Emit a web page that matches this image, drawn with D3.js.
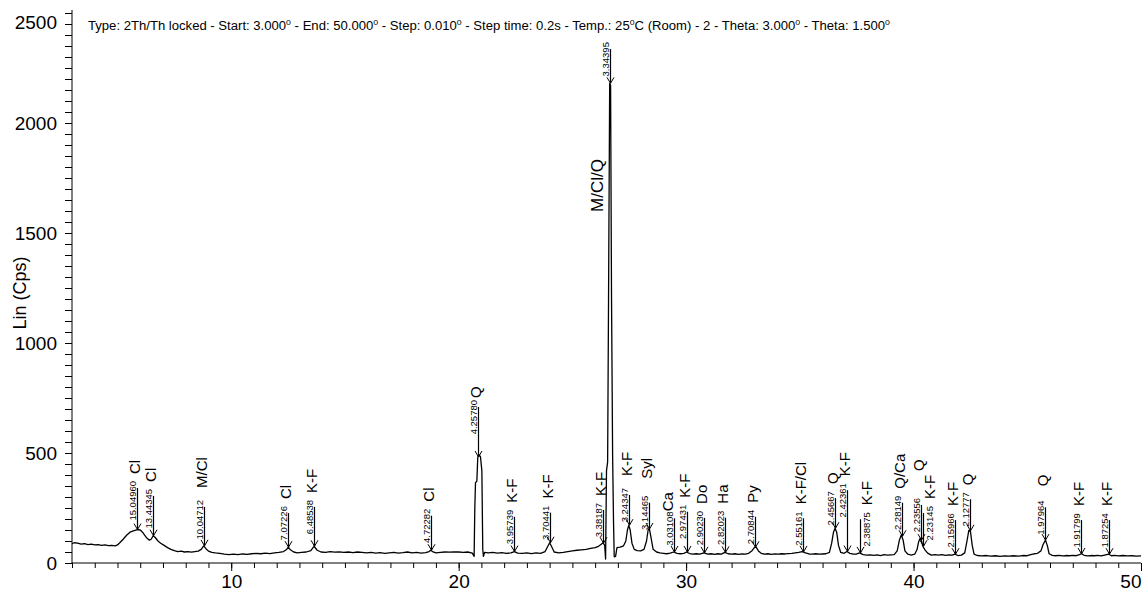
<!DOCTYPE html>
<html>
<head>
<meta charset="utf-8">
<script src="https://cdn.jsdelivr.net/npm/d3@7/dist/d3.min.js"></script>
<style>
  html, body { margin: 0; padding: 0; background: #fff; }
  svg { display: block; font-family: "Liberation Sans", Arial, Helvetica, sans-serif; }
</style>
</head>
<body>
<svg id="chart" width="1142" height="594"></svg>
<script>
// ---- measured scan: [2θ (deg), intensity (cps)] ----
const scan = [
  [3.00,88],[3.10,92],[3.25,90],[3.40,86],[3.55,88],[3.70,84],[3.85,86],[4.00,82],[4.15,84],[4.30,80],
  [4.45,82],[4.60,79],[4.75,80],[4.90,78],[5.00,82],[5.10,92],[5.25,108],[5.40,126],[5.55,140],[5.70,146],
  [5.87,152],[6.00,150],[6.10,140],[6.20,126],[6.30,112],[6.40,104],[6.48,108],[6.57,124],[6.66,116],[6.78,100],
  [6.90,90],[7.05,80],[7.20,70],[7.35,62],[7.50,56],[7.65,52],[7.80,54],[7.95,50],[8.10,52],[8.25,49],
  [8.40,52],[8.55,54],[8.68,62],[8.79,78],[8.90,64],[9.00,54],[9.15,48],[9.30,46],[9.50,44],[9.70,40],
  [9.90,38],[10.10,40],[10.30,38],[10.50,41],[10.70,39],[10.90,42],[11.10,44],[11.30,42],[11.50,45],[11.70,43],
  [11.90,46],[12.10,48],[12.30,52],[12.42,60],[12.51,72],[12.60,60],[12.75,50],[12.90,46],[13.10,48],[13.30,50],
  [13.50,56],[13.64,76],[13.78,58],[13.95,50],[14.15,48],[14.35,52],[14.55,49],[14.75,51],[14.95,48],[15.15,50],
  [15.35,47],[15.55,50],[15.75,48],[15.95,46],[16.15,48],[16.35,45],[16.55,47],[16.75,44],[16.95,46],[17.15,48],
  [17.35,45],[17.55,47],[17.75,50],[17.95,46],[18.15,48],[18.35,45],[18.55,47],[18.70,52],[18.77,58],[18.85,52],
  [19.00,46],[19.20,48],[19.40,50],[19.60,49],[19.80,51],[20.00,50],[20.20,48],[20.40,50],[20.60,45],[20.68,30],
  [20.71,250],[20.74,365],[20.80,372],[20.84,480],[20.90,492],[20.96,482],[21.02,420],[21.06,60],[21.09,30],[21.14,48],
  [21.30,46],[21.50,48],[21.70,45],[21.90,47],[22.10,44],[22.30,46],[22.45,52],[22.60,45],[22.80,44],[23.00,46],
  [23.20,43],[23.40,46],[23.60,44],[23.80,52],[23.92,76],[24.00,92],[24.08,76],[24.20,50],[24.40,46],[24.60,48],
  [24.80,52],[25.00,55],[25.20,58],[25.40,60],[25.60,62],[25.80,66],[26.00,70],[26.15,76],[26.28,86],[26.35,92],
  [26.42,80],[26.46,18],[26.50,420],[26.55,460],[26.59,1200],[26.64,2180],[26.68,2170],[26.72,1220],[26.77,480],[26.81,180],
  [26.84,28],[26.90,30],[26.96,70],[27.10,72],[27.25,78],[27.35,100],[27.42,150],[27.48,172],[27.54,150],[27.62,90],
  [27.72,62],[27.85,56],[28.00,55],[28.15,62],[28.26,100],[28.33,150],[28.38,158],[28.45,120],[28.55,62],[28.70,50],
  [28.85,46],[29.00,44],[29.15,42],[29.30,45],[29.45,50],[29.60,44],[29.75,42],[29.90,44],[30.02,50],[30.15,43],
  [30.30,40],[30.45,42],[30.60,40],[30.78,46],[30.95,40],[31.10,42],[31.25,39],[31.40,42],[31.55,40],[31.70,48],
  [31.85,42],[32.00,40],[32.15,42],[32.30,39],[32.45,41],[32.60,40],[32.75,44],[32.90,56],[33.00,70],[33.08,72],
  [33.18,55],[33.30,44],[33.45,40],[33.60,42],[33.75,39],[33.90,41],[34.05,40],[34.20,42],[34.35,41],[34.50,43],
  [34.65,44],[34.80,46],[34.95,48],[35.10,52],[35.25,46],[35.40,41],[35.55,40],[35.70,42],[35.85,40],[36.00,41],
  [36.15,42],[36.30,48],[36.40,90],[36.48,140],[36.55,158],[36.62,140],[36.70,80],[36.80,48],[36.95,44],[37.07,52],
  [37.20,44],[37.35,40],[37.50,41],[37.63,46],[37.78,38],[37.95,36],[38.10,37],[38.25,35],[38.40,37],[38.55,34],
  [38.70,38],[38.85,36],[39.00,37],[39.15,38],[39.28,55],[39.38,105],[39.46,127],[39.54,105],[39.62,55],[39.75,40],
  [39.90,36],[40.05,40],[40.15,60],[40.22,95],[40.29,112],[40.35,100],[40.41,76],[40.50,60],[40.62,45],[40.78,36],
  [40.95,38],[41.10,36],[41.25,38],[41.40,35],[41.55,37],[41.70,36],[41.81,40],[41.95,34],[42.10,36],[42.25,46],
  [42.35,100],[42.43,148],[42.50,145],[42.58,80],[42.66,40],[42.80,34],[43.00,32],[43.20,34],[43.40,31],[43.60,33],
  [43.80,30],[44.00,32],[44.20,31],[44.40,33],[44.60,31],[44.80,34],[45.00,33],[45.15,38],[45.30,42],[45.45,44],
  [45.60,55],[45.70,85],[45.80,104],[45.88,80],[45.96,42],[46.10,35],[46.25,33],[46.40,35],[46.55,32],[46.70,34],
  [46.85,33],[47.00,35],[47.15,33],[47.30,38],[47.38,42],[47.50,35],[47.65,32],[47.80,34],[47.95,33],[48.10,35],
  [48.25,32],[48.40,36],[48.58,40],[48.70,33],[48.85,35],[49.00,32],[49.20,34],[49.40,32],[49.60,33],[49.80,31],
  [50.00,32]
];

// ---- identified reflections ----
const peakAngle = [5.87, 6.57, 8.79, 12.51, 13.64, 18.77, 20.85, 22.45, 24.00, 26.33,
                   26.64, 27.48, 28.36, 29.45, 30.02, 30.78, 31.70, 33.05, 35.14, 36.55,
                   37.07, 37.63, 39.48, 40.33, 40.41, 41.81, 42.47, 45.80, 47.36, 48.58];
const peakD = ["15.04960","13.44345","10.04712","7.07226","6.48538","4.72282","4.25780","3.95739","3.70441","3.38187",
               "3.34395","3.24347","3.14465","3.03108","2.97431","2.90230","2.82023","2.70844","2.55161","2.45667",
               "2.42361","2.38875","2.28149","2.23556","2.23145","2.15966","2.12777","1.97964","1.91799","1.87254"];
const peakPhase = ["Cl","Cl","M/Cl","Cl","K-F","Cl","Q","K-F","K-F","K-F",
                   "M/Cl/Q","K-F","Syl","Ca","K-F","Do","Ha","Py","K-F/Cl","Q",
                   "K-F","K-F","Q/Ca","Q","K-F","K-F","Q","Q","K-F","K-F"];
// top of each marker stick, in cps
const stickTop = [341, 305, 255, 227, 255, 215, 709, 210, 229, 241,
                  2336, 309, 274, 203, 233, 205, 206, 210, 203, 295,
                  331, 199, 274, 264, 227, 195, 290, 253, 195, 195];

// ---- axes ----
const xMajorTicks = [10, 20, 30, 40, 50];
const yMajorTicks = [0, 500, 1000, 1500, 2000, 2500];
const yAxisTitle = "Lin (Cps)";
const scanInfo = [
  ["Type: 2Th/Th locked - Start: 3.000", false], ["0", true],
  [" - End: 50.000", false], ["0", true],
  [" - Step: 0.010", false], ["0", true],
  [" - Step time: 0.2s - Temp.: 25", false], ["0", true],
  ["C (Room) - 2 - Theta: 3.000", false], ["0", true],
  [" - Theta: 1.500", false], ["0", true]
];

// label placement tweaks (pixels) where labels would collide
const labelLayout = {
  "2.38875": { side: "right" },
  "2.23145": { side: "right" },
  "4.25780": { phaseDy: 5 },
  "3.03108": { phaseDy: 7, phaseDx: -4 },
  "3.14465": { phaseDy: -10 },
  "3.24347": { phaseDy: -5 },
  "10.04712": { phaseDy: -5 },
  "2.23556": { phaseDy: -20 },
  "1.97964": { phaseDy: -7 },
  "3.34395": { phaseAt: 212, phaseDx: -10, phaseSize: 17 }
};

const svg = d3.select("#chart");
const x0 = 72, x1 = 1141, yBase = 563;
const tickFont = 19;

const x = d3.scaleLinear().domain([3, 50]).range([x0, x1]);
const y = d3.scaleLinear().domain([0, 2500]).range([yBase, 13]);

// ---- x axis ----
const gx = svg.append("g").attr("transform", `translate(0,${yBase})`);
gx.call(d3.axisBottom(x).tickValues(d3.range(3, 51)).tickSize(5).tickFormat(""))
  .call(g => g.select(".domain").remove());
gx.append("g").call(d3.axisBottom(x).tickValues(xMajorTicks).tickSize(8).tickPadding(4).tickFormat(d3.format("d")))
  .call(g => g.select(".domain").remove())
  .call(g => g.selectAll("text").attr("font-size", tickFont).attr("fill", "#000")
    .attr("font-family", "Liberation Sans, Arial, sans-serif"));
gx.selectAll("line").attr("stroke", "#000");
gx.selectAll("g.tick").filter(d => d === 50).select("text").attr("text-anchor", "end").attr("x", 0);
gx.append("line").attr("x1", x0).attr("x2", x1).attr("y1", 0).attr("y2", 0).attr("stroke", "#000");

// ---- y axis ----
const gy = svg.append("g").attr("transform", `translate(${x0},0)`);
gy.call(d3.axisLeft(y).tickValues(d3.range(0, 2501, 50)).tickSize(7).tickFormat(""))
  .call(g => g.select(".domain").remove());
gy.append("g").call(d3.axisLeft(y).tickValues(yMajorTicks).tickSize(7).tickPadding(8).tickFormat(d3.format("d")))
  .call(g => g.select(".domain").remove())
  .call(g => g.selectAll("text").attr("font-size", tickFont).attr("fill", "#000")
    .attr("font-family", "Liberation Sans, Arial, sans-serif"));
gy.selectAll("line").attr("stroke", "#000");
gy.selectAll("g.tick").filter(d => d === 2500).select("text").attr("dy", "0.8em");
gy.append("line").attr("x1", 0).attr("x2", 0).attr("y1", yBase).attr("y2", 10).attr("stroke", "#000");

svg.append("text")
  .attr("transform", `translate(26,293) rotate(-90)`)
  .attr("text-anchor", "middle")
  .attr("font-size", 18)
  .text(yAxisTitle);

// ---- scan header ----
const info = svg.append("text").attr("x", 88).attr("y", 30).attr("font-size", 12).attr("fill", "#000");
scanInfo.forEach(([t, sup], i) => {
  info.append("tspan")
    .attr("font-size", sup ? 8 : 12)
    .attr("dy", sup ? -5 : (i > 0 ? 5 : 0))
    .text(t);
});
info.attr("textLength", 890 - 88).attr("lengthAdjust", "spacingAndGlyphs");

// ---- diffraction trace ----
const line = d3.line().x(d => x(d[0])).y(d => y(d[1]));
svg.append("path")
  .datum(scan)
  .attr("fill", "none")
  .attr("stroke", "#000")
  .attr("stroke-width", 1.3)
  .attr("stroke-linejoin", "round")
  .attr("d", line);

// intensity of the trace at a given angle
const bis = d3.bisector(d => d[0]).left;
function traceAt(a) {
  const i = bis(scan, a);
  if (i <= 0) return scan[0][1];
  if (i >= scan.length) return scan[scan.length - 1][1];
  const p = scan[i - 1], q = scan[i];
  const t = (a - p[0]) / (q[0] - p[0]);
  return p[1] + t * (q[1] - p[1]);
}

// ---- peak markers ----
const tags = svg.append("g");
peakAngle.forEach((a, i) => {
  const lay = labelLayout[peakD[i]] || {};
  const px = Math.round(x(a)) + 0.5;
  const tip = y(traceAt(a));
  const top = y(stickTop[i]);
  const g = tags.append("g");
  g.append("line").attr("x1", px).attr("x2", px).attr("y1", top).attr("y2", tip)
    .attr("stroke", "#000").attr("stroke-width", 1.2);
  g.append("path")
    .attr("d", `M${px - 3.5},${tip - 6}L${px},${tip}L${px + 3.5},${tip - 6}`)
    .attr("fill", "none").attr("stroke", "#000").attr("stroke-width", 1);

  const right = lay.side === "right";
  const dx = right ? px + 9.5 : px - 1.5;
  g.append("text")
    .attr("transform", `translate(${dx},${top - 7}) rotate(-90)`)
    .attr("text-anchor", "end")
    .attr("font-size", 9.5)
    .text(peakD[i]);

  const phx = (right ? px + 11.5 : px + 2.5) + (lay.phaseDx || 0);
  const phy = (lay.phaseAt !== undefined ? lay.phaseAt : top - 14) + (lay.phaseDy || 0);
  g.append("text")
    .attr("transform", `translate(${phx},${phy}) rotate(-90)`)
    .attr("text-anchor", "start")
    .attr("font-size", lay.phaseSize || 15)
    .text(peakPhase[i]);
});
</script>
</body>
</html>
